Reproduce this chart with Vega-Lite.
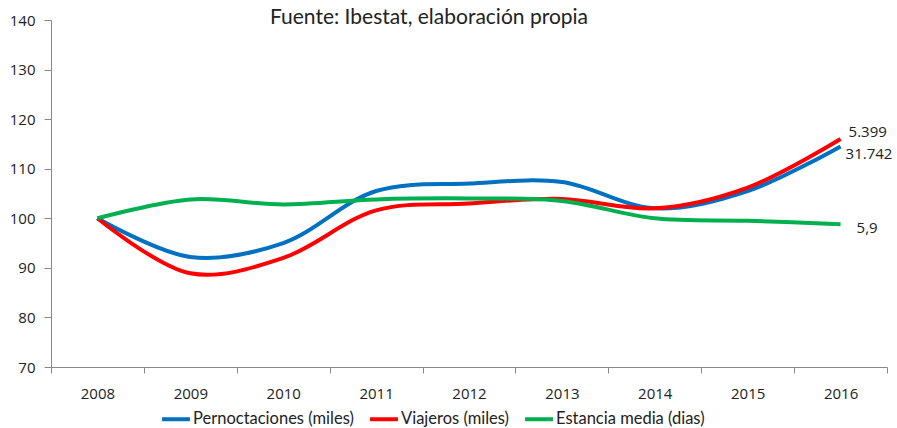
{
  "$schema": "https://vega.github.io/schema/vega-lite/v6.json",
  "width": 836,
  "height": 347,
  "autosize": {"type": "none"},
  "padding": {"left": 51, "top": 20, "right": 10, "bottom": 61},
  "background": "white",
  "title": {"text": "Fuente: Ibestat, elaboración propia", "font": "Lato", "fontSize": 21, "fontWeight": "normal", "color": "#222", "anchor": "middle", "offset": -15, "dx": -40},
  "config": {"view": {"stroke": null}},
  "datasets": {
    "series": [
      {"year": "2008", "serie": "Pernoctaciones (miles)", "value": 100},
      {"year": "2009", "serie": "Pernoctaciones (miles)", "value": 92.2},
      {"year": "2010", "serie": "Pernoctaciones (miles)", "value": 95},
      {"year": "2011", "serie": "Pernoctaciones (miles)", "value": 105.5},
      {"year": "2012", "serie": "Pernoctaciones (miles)", "value": 107},
      {"year": "2013", "serie": "Pernoctaciones (miles)", "value": 107.3},
      {"year": "2014", "serie": "Pernoctaciones (miles)", "value": 102},
      {"year": "2015", "serie": "Pernoctaciones (miles)", "value": 105.5},
      {"year": "2016", "serie": "Pernoctaciones (miles)", "value": 114.5},
      {"year": "2008", "serie": "Viajeros (miles)", "value": 100},
      {"year": "2009", "serie": "Viajeros (miles)", "value": 88.9},
      {"year": "2010", "serie": "Viajeros (miles)", "value": 92},
      {"year": "2011", "serie": "Viajeros (miles)", "value": 101.6},
      {"year": "2012", "serie": "Viajeros (miles)", "value": 103},
      {"year": "2013", "serie": "Viajeros (miles)", "value": 103.9},
      {"year": "2014", "serie": "Viajeros (miles)", "value": 102},
      {"year": "2015", "serie": "Viajeros (miles)", "value": 106.2},
      {"year": "2016", "serie": "Viajeros (miles)", "value": 116},
      {"year": "2008", "serie": "Estancia media (dias)", "value": 100},
      {"year": "2009", "serie": "Estancia media (dias)", "value": 103.8},
      {"year": "2010", "serie": "Estancia media (dias)", "value": 102.8},
      {"year": "2011", "serie": "Estancia media (dias)", "value": 103.8},
      {"year": "2012", "serie": "Estancia media (dias)", "value": 104},
      {"year": "2013", "serie": "Estancia media (dias)", "value": 103.5},
      {"year": "2014", "serie": "Estancia media (dias)", "value": 100},
      {"year": "2015", "serie": "Estancia media (dias)", "value": 99.5},
      {"year": "2016", "serie": "Estancia media (dias)", "value": 98.8}
    ],
    "labels": [
      {"year": "2016", "value": 116, "label": "5.399", "pos": "a"},
      {"year": "2016", "value": 114.5, "label": "31.742", "pos": "b"},
      {"year": "2016", "value": 98.8, "label": "5,9", "pos": "c"}
    ]
  },
  "layer": [
    {
      "data": {"name": "series"},
      "mark": {"type": "line", "interpolate": "catmull-rom", "strokeWidth": 4},
      "encoding": {
        "x": {"field": "year", "type": "ordinal", "scale": {"paddingInner": 0, "paddingOuter": 0},
          "axis": {"title": null, "labelAngle": 0, "tickBand": "extent", "domainColor": "#888", "tickColor": "#888", "tickSize": 6, "labelPadding": 13, "labelFont": "Open Sans", "labelFontSize": 15, "labelColor": "#222"}},
        "y": {"field": "value", "type": "quantitative", "scale": {"domain": [70, 140], "nice": false, "zero": false},
          "axis": {"title": null, "values": [70, 80, 90, 100, 110, 120, 130, 140], "grid": false, "domainColor": "#888", "tickColor": "#888", "tickSize": 7, "labelPadding": 9, "labelFont": "Open Sans", "labelFontSize": 15, "labelColor": "#222"}},
        "color": {"field": "serie", "type": "nominal",
          "scale": {"domain": ["Pernoctaciones (miles)", "Viajeros (miles)", "Estancia media (dias)"], "range": ["#0070C0", "#FF0000", "#00B050"]},
          "legend": {"title": null, "orient": "none", "legendX": 109, "legendY": 383, "direction": "horizontal", "symbolType": "stroke", "symbolStrokeWidth": 4, "symbolSize": 780, "labelFont": "Lato", "labelFontSize": 16.5, "labelLimit": 400, "labelColor": "#222", "columnPadding": 8, "symbolOffset": 0, "labelOffset": 1}}
      }
    },
    {
      "data": {"name": "labels"},
      "transform": [{"filter": "datum.pos == 'a'"}],
      "mark": {"type": "text", "align": "left", "dx": 8, "dy": -7, "font": "Open Sans", "fontSize": 15, "color": "#222"},
      "encoding": {"x": {"field": "year", "type": "ordinal"}, "y": {"field": "value", "type": "quantitative"}, "text": {"field": "label"}}
    },
    {
      "data": {"name": "labels"},
      "transform": [{"filter": "datum.pos == 'b'"}],
      "mark": {"type": "text", "align": "left", "dx": 5, "dy": 8, "font": "Open Sans", "fontSize": 15, "color": "#222"},
      "encoding": {"x": {"field": "year", "type": "ordinal"}, "y": {"field": "value", "type": "quantitative"}, "text": {"field": "label"}}
    },
    {
      "data": {"name": "labels"},
      "transform": [{"filter": "datum.pos == 'c'"}],
      "mark": {"type": "text", "align": "left", "dx": 16, "dy": 4, "font": "Open Sans", "fontSize": 15, "color": "#222"},
      "encoding": {"x": {"field": "year", "type": "ordinal"}, "y": {"field": "value", "type": "quantitative"}, "text": {"field": "label"}}
    }
  ]
}
